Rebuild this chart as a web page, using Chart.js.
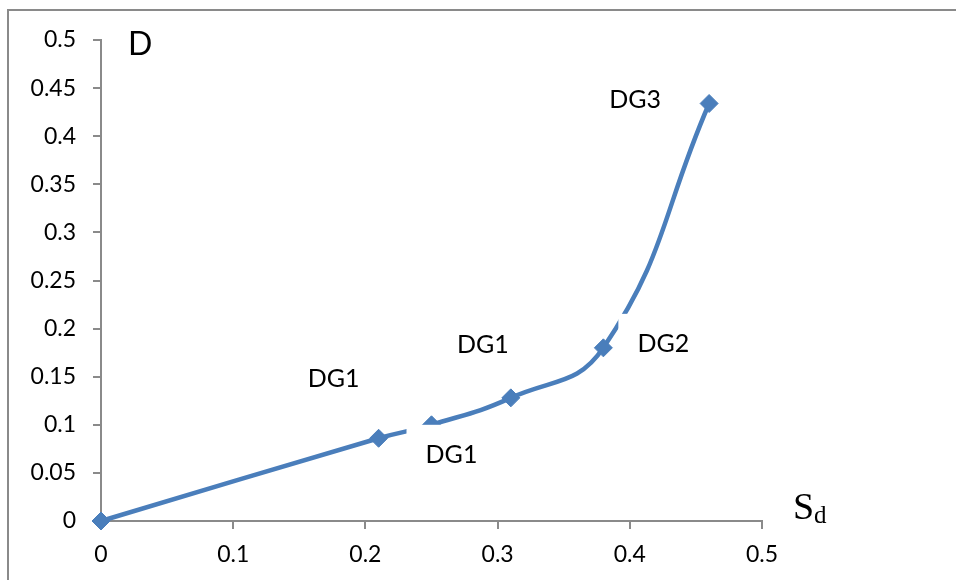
<!DOCTYPE html>
<html>
<head>
<meta charset="utf-8">
<script src="https://cdn.jsdelivr.net/npm/chart.js@4.4.1/dist/chart.umd.min.js"></script>
<style>
  html, body { margin: 0; padding: 0; background: #ffffff; }
  #wrap { position: relative; width: 956px; height: 580px; }
</style>
</head>
<body>
<div id="wrap"><canvas id="c" width="956" height="580"></canvas></div>
<script>
// Damage index D against drift S_d
const sdValues = [0, 0.21, 0.25, 0.31, 0.38, 0.46];
const dValues = [0, 0.086, 0.1, 0.128, 0.18, 0.434];
const pointLabels = ['', 'DG1', 'DG1', 'DG1', 'DG2', 'DG3'];
const xTicks = [0, 0.1, 0.2, 0.3, 0.4, 0.5];
const yTicks = [0, 0.05, 0.1, 0.15, 0.2, 0.25, 0.3, 0.35, 0.4, 0.45, 0.5];

// pixel offsets of each data label's centre from its point
const labelOffsets = [null, [-45, -60], [20, 29], [-28, -54], [60, -5], [-74, -5]];

const AXIS_GREY = '#8a8a8a';
const LINE_BLUE = '#4a7ebb';
const FONT = 'Lato, "Open Sans", sans-serif';

const points = sdValues.map((x, i) => ({ x: x, y: dValues[i] }));

const decorations = {
  id: 'decorations',
  beforeDraw(chart) {
    const ctx = chart.ctx;
    ctx.save();
    ctx.strokeStyle = AXIS_GREY;
    ctx.lineWidth = 2;
    ctx.beginPath();
    ctx.moveTo(8, 580);
    ctx.lineTo(8, 10);
    ctx.lineTo(956, 10);
    ctx.stroke();
    ctx.restore();
  },
  afterDatasetsDraw(chart) {
    const ctx = chart.ctx;
    const meta = chart.getDatasetMeta(0);
    ctx.save();
    ctx.font = '25px ' + FONT;
    ctx.textAlign = 'center';
    ctx.textBaseline = 'middle';
    meta.data.forEach((pt, i) => {
      const text = pointLabels[i];
      if (!text) return;
      const off = labelOffsets[i];
      const cx = pt.x + off[0];
      const cy = pt.y + off[1];
      ctx.fillStyle = '#ffffff';
      ctx.fillRect(cx - 45, cy - 29, 90, 58);
      ctx.fillStyle = '#000000';
      ctx.fillText(text, cx, cy + 1);
    });
    // axis titles
    ctx.textAlign = 'left';
    ctx.textBaseline = 'alphabetic';
    ctx.font = '32px ' + FONT;
    ctx.fillText('D', 128, 55);
    ctx.font = '38px "Liberation Serif", "DejaVu Serif", serif';
    ctx.fillText('S', 793, 519);
    ctx.font = '25px "Liberation Serif", "DejaVu Serif", serif';
    ctx.fillText('d', 814, 523);
    ctx.restore();
  }
};

new Chart(document.getElementById('c'), {
  type: 'scatter',
  data: {
    datasets: [{
      data: points,
      showLine: true,
      clip: false,
      borderColor: LINE_BLUE,
      backgroundColor: LINE_BLUE,
      borderWidth: 4.5,
      tension: 0.45,
      pointStyle: 'rectRot',
      pointRadius: 9,
      pointBorderWidth: 1,
      pointBackgroundColor: LINE_BLUE,
      pointBorderColor: LINE_BLUE
    }]
  },
  options: {
    responsive: false,
    animation: false,
    events: [],
    layout: { padding: { left: 0, right: 194, top: 40, bottom: 0 } },
    plugins: { legend: { display: false }, tooltip: { enabled: false } },
    scales: {
      x: {
        type: 'linear',
        min: 0,
        max: 0.5,
        afterBuildTicks(axis) { axis.ticks = xTicks.map(v => ({ value: v })); },
        afterFit(axis) { axis.height = 59; },
        border: { display: true, color: AXIS_GREY, width: 2 },
        grid: { drawOnChartArea: false, drawTicks: true, tickLength: 8, color: AXIS_GREY, lineWidth: 2 },
        ticks: {
          padding: 12,
          color: '#000000',
          font: { family: FONT, size: 23 },
          callback: v => String(+v.toFixed(2))
        }
      },
      y: {
        type: 'linear',
        min: 0,
        max: 0.5,
        afterBuildTicks(axis) { axis.ticks = yTicks.map(v => ({ value: v })); },
        afterFit(axis) { axis.width = 101; },
        border: { display: true, color: AXIS_GREY, width: 2 },
        grid: { drawOnChartArea: false, drawTicks: true, tickLength: 8, color: AXIS_GREY, lineWidth: 2 },
        ticks: {
          padding: 17,
          color: '#000000',
          font: { family: FONT, size: 23 },
          callback: v => String(+v.toFixed(2))
        }
      }
    }
  },
  plugins: [decorations]
});
</script>
</body>
</html>
